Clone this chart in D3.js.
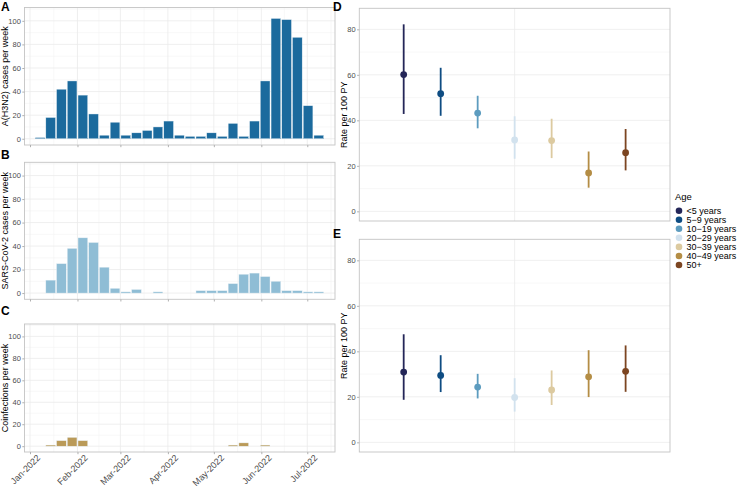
<!DOCTYPE html>
<html>
<head>
<meta charset="utf-8">
<script src="https://cdn.jsdelivr.net/npm/d3@7"></script>
<style>
  html, body { margin: 0; padding: 0; background: #fff; }
  svg { display: block; font-family: "Liberation Sans", Arial, sans-serif; }
</style>
</head>
<body>
<svg id="chart" width="740" height="486"></svg>
<script>
// ---------------- DATA ----------------
const weeks = ["2022-01-07","2022-01-14","2022-01-21","2022-01-28","2022-02-04","2022-02-11","2022-02-18","2022-02-25",
  "2022-03-04","2022-03-11","2022-03-18","2022-03-25","2022-04-01","2022-04-08","2022-04-15","2022-04-22","2022-04-29",
  "2022-05-06","2022-05-13","2022-05-20","2022-05-27","2022-06-03","2022-06-10","2022-06-17","2022-06-24","2022-07-01","2022-07-08"];
const h3n2Cases = [1,18,42,49,37,21,3,14,3,5,7,10,15,3,2,2,5,2,13,2,15,49,102,101,86,28,3];
const sarsCases = [0,11,25,38,47,43,22,4,1,3,0,1,0,0,0,2,2,2,8,16,17,14,10,2,2,1,1];
const coinfCases = [0,1,5,8,5,0,0,0,0,0,0,0,0,0,0,0,0,0,1,3,0,1,0,0,0,0,0];
const monthTicks = ["2022-01-01","2022-02-01","2022-03-01","2022-04-01","2022-05-01","2022-06-01","2022-07-01"];
const monthLabels = ["Jan-2022","Feb-2022","Mar-2022","Apr-2022","May-2022","Jun-2022","Jul-2022"];
const countTicks = [0,20,40,60,80,100];

const ageGroups = ["<5 years","5\u22129 years","10\u221219 years","20\u221229 years","30\u221239 years","40\u221249 years","50+"];
const ageColors = ["#242658","#0e4c82","#5d9cbf","#d2e2ee","#dccaa0","#b48d45","#7c4521"];
const rateD = [60.1,51.7,43.2,31.4,31.1,16.9,25.8];
const lowD  = [42.8,42.0,36.5,23.1,23.4,10.4,18.0];
const highD = [82.2,63.1,50.8,41.8,40.7,26.3,36.2];
const rateE = [30.9,29.4,24.3,19.7,23.0,28.8,31.2];
const lowE  = [18.7,22.1,19.3,13.5,16.4,19.9,22.2];
const highE = [47.5,38.3,30.1,28.2,31.6,40.5,42.6];
const rateTicks = [0,20,40,60,80];

// ---------------- STYLE ----------------
const svg = d3.select("#chart");
const gridMajor = "#ebebeb", gridMinor = "#f4f4f4", borderCol = "#c4c4c4", tickTextCol = "#4d4d4d";
const parse = d3.utcParse("%Y-%m-%d");

// ---------- Left panels (A, B, C) ----------
const xTime = d3.scaleUtc()
  .domain([new Date(Date.UTC(2021,11,28,10)), new Date(Date.UTC(2022,6,19,2))])
  .range([24.5, 335]);
const dayPx = xTime(new Date(Date.UTC(2022,0,2))) - xTime(new Date(Date.UTC(2022,0,1)));
const countDomain = [-5.3, 111.3];

const leftPanels = [
  {tag:"A", tagY:10.5, top:7.5, bottom:145, data:h3n2Cases, color:"#1b6a9d", title:"A(H3N2) cases per week", labels:false},
  {tag:"B", tagY:159, top:162.3, bottom:299.3, data:sarsCases, color:"#8fbdd5", title:"SARS-CoV-2 cases per week", labels:false},
  {tag:"C", tagY:315, top:324, bottom:452, data:coinfCases, color:"#ba9a58", title:"Coinfections per week", labels:true}
];

const monthDates = monthTicks.map(parse);
const minorX = [];
for (let i = 0; i < monthDates.length; i++) {
  const a = monthDates[i];
  const b = i < monthDates.length - 1 ? monthDates[i+1] : new Date(Date.UTC(2022,7,1));
  const m = new Date((a.getTime() + b.getTime()) / 2);
  if (m <= xTime.domain()[1]) minorX.push(m);
}

leftPanels.forEach(p => {
  const y = d3.scaleLinear().domain(countDomain).range([p.bottom, p.top]);
  const g = svg.append("g");
  const L = xTime.range()[0], R = xTime.range()[1];
  const minorY = [10,30,50,70,90,110].filter(v => v <= countDomain[1]);
  g.selectAll(".mny").data(minorY).join("line")
    .attr("x1", L).attr("x2", R).attr("y1", d => y(d)).attr("y2", d => y(d))
    .attr("stroke", gridMinor).attr("stroke-width", 0.6);
  g.selectAll(".mnx").data(minorX).join("line")
    .attr("x1", d => xTime(d)).attr("x2", d => xTime(d)).attr("y1", p.top).attr("y2", p.bottom)
    .attr("stroke", gridMinor).attr("stroke-width", 0.6);
  g.selectAll(".mjy").data(countTicks).join("line")
    .attr("x1", L).attr("x2", R).attr("y1", d => y(d)).attr("y2", d => y(d))
    .attr("stroke", gridMajor).attr("stroke-width", 0.8);
  g.selectAll(".mjx").data(monthDates).join("line")
    .attr("x1", d => xTime(d)).attr("x2", d => xTime(d)).attr("y1", p.top).attr("y2", p.bottom)
    .attr("stroke", gridMajor).attr("stroke-width", 0.8);
  const bw = 6.3 * dayPx;
  g.selectAll(".bar").data(weeks.map((w, i) => ({d: d3.utcHour.offset(parse(w), 12), v: p.data[i]})).filter(e => e.v > 0))
    .join("rect")
    .attr("x", e => xTime(e.d) - bw / 2)
    .attr("width", bw)
    .attr("y", e => y(e.v))
    .attr("height", e => y(0) - y(e.v))
    .attr("fill", p.color)
    .attr("stroke", "#e9f1f6").attr("stroke-width", 0.4);
  g.append("rect").attr("x", L).attr("y", p.top).attr("width", R - L).attr("height", p.bottom - p.top)
    .attr("fill", "none").attr("stroke", borderCol).attr("stroke-width", 0.9);
  const yAxis = d3.axisLeft(y).tickValues(countTicks).tickSize(2.2).tickPadding(1.5);
  const ya = g.append("g").attr("transform", `translate(${L},0)`).call(yAxis);
  ya.select(".domain").remove();
  ya.selectAll(".tick line").attr("stroke", "#b0b0b0");
  ya.selectAll(".tick text").attr("fill", tickTextCol).attr("font-size", 7.5).attr("font-family", "Liberation Sans, Arial, sans-serif");
  const xAxis = d3.axisBottom(xTime).tickValues(monthDates).tickSize(2.2).tickFormat((d, i) => p.labels ? monthLabels[i] : "");
  const xa = g.append("g").attr("transform", `translate(0,${p.bottom})`).call(xAxis);
  xa.select(".domain").remove();
  xa.selectAll(".tick line").attr("stroke", "#b0b0b0");
  if (p.labels) {
    xa.selectAll(".tick text")
      .attr("fill", tickTextCol).attr("font-size", 9).attr("font-family", "Liberation Sans, Arial, sans-serif")
      .attr("text-anchor", "end")
      .attr("transform", "translate(3,-1) rotate(-45)")
      .attr("x", 0).attr("y", 4).attr("dy", "0.71em");
  }
  svg.append("text")
    .attr("transform", `translate(8.3,${(p.top + p.bottom) / 2}) rotate(-90)`)
    .attr("text-anchor", "middle").attr("font-size", 9).attr("fill", "#000")
    .text(p.title);
  svg.append("text").attr("x", 1).attr("y", p.tagY).attr("font-size", 12).attr("font-weight", "bold").text(p.tag);
});

// ---------- Right panels (D, E) ----------
const rateDomain = [-4.25, 89.25];
const xPos = d3.scaleLinear().domain([0.4, 1.6]).range([359.3, 670]);
const dodge = d3.scalePoint().domain(ageGroups).range([1 - 3/7, 1 + 3/7]);

const rightPanels = [
  {tag:"D", tagY:10.5, top:8.3, bottom:221, rate:rateD, low:lowD, high:highD},
  {tag:"E", tagY:237.5, top:239.3, bottom:452, rate:rateE, low:lowE, high:highE}
];

rightPanels.forEach(p => {
  const y = d3.scaleLinear().domain(rateDomain).range([p.bottom, p.top]);
  const g = svg.append("g");
  const L = xPos.range()[0], R = xPos.range()[1];
  g.selectAll(".mny").data([10,30,50,70]).join("line")
    .attr("x1", L).attr("x2", R).attr("y1", d => y(d)).attr("y2", d => y(d))
    .attr("stroke", gridMinor).attr("stroke-width", 0.6);
  g.selectAll(".mjy").data(rateTicks).join("line")
    .attr("x1", L).attr("x2", R).attr("y1", d => y(d)).attr("y2", d => y(d))
    .attr("stroke", gridMajor).attr("stroke-width", 0.8);
  g.append("line").attr("x1", xPos(1)).attr("x2", xPos(1)).attr("y1", p.top).attr("y2", p.bottom)
    .attr("stroke", gridMajor).attr("stroke-width", 0.8);

  const rows = ageGroups.map((a, i) => ({a, c: ageColors[i], r: p.rate[i], lo: p.low[i], hi: p.high[i]}));
  g.selectAll(".err").data(rows).join("line")
    .attr("x1", d => xPos(dodge(d.a))).attr("x2", d => xPos(dodge(d.a)))
    .attr("y1", d => y(d.lo)).attr("y2", d => y(d.hi))
    .attr("stroke", d => d.c).attr("stroke-width", 1.8);
  g.selectAll(".pt").data(rows).join("circle")
    .attr("cx", d => xPos(dodge(d.a))).attr("cy", d => y(d.r)).attr("r", 3.4)
    .attr("fill", d => d.c);

  g.append("rect").attr("x", L).attr("y", p.top).attr("width", R - L).attr("height", p.bottom - p.top)
    .attr("fill", "none").attr("stroke", borderCol).attr("stroke-width", 0.9);

  const yAxis = d3.axisLeft(y).tickValues(rateTicks).tickSize(2.2).tickPadding(1.5);
  const ya = g.append("g").attr("transform", `translate(${L},0)`).call(yAxis);
  ya.select(".domain").remove();
  ya.selectAll(".tick line").attr("stroke", "#b0b0b0");
  ya.selectAll(".tick text").attr("fill", tickTextCol).attr("font-size", 7.5).attr("font-family", "Liberation Sans, Arial, sans-serif");

  svg.append("text")
    .attr("transform", `translate(346.5,${(p.top + p.bottom) / 2}) rotate(-90)`)
    .attr("text-anchor", "middle").attr("font-size", 9).attr("fill", "#000")
    .text("Rate per 100 PY");
  svg.append("text").attr("x", 333).attr("y", p.tagY).attr("font-size", 12).attr("font-weight", "bold").text(p.tag);
});

// ---------- Legend ----------
const leg = svg.append("g");
leg.append("text").attr("x", 675).attr("y", 200).attr("font-size", 9.5).text("Age");
const legY = d3.scalePoint().domain(ageGroups).range([210.7, 265]);
leg.selectAll("circle").data(ageGroups).join("circle")
  .attr("cx", 679).attr("cy", d => legY(d)).attr("r", 3.3)
  .attr("fill", (d, i) => ageColors[i]);
leg.selectAll(".lt").data(ageGroups).join("text")
  .attr("x", 686.5).attr("y", d => legY(d) + 3.2).attr("font-size", 9)
  .text(d => d);
</script>
</body>
</html>
